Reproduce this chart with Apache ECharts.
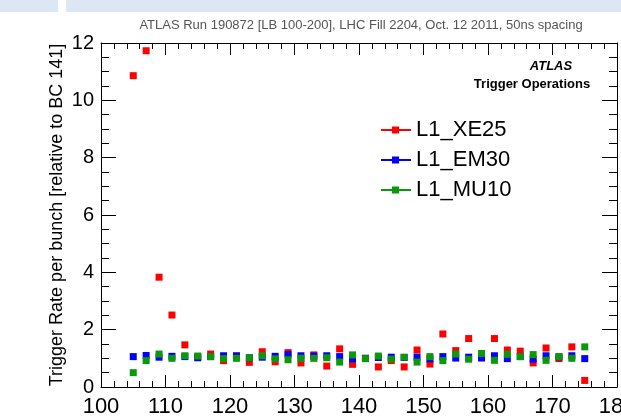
<!DOCTYPE html>
<html>
<head>
<meta charset="utf-8">
<title>Trigger rate per bunch</title>
<script src="https://cdn.jsdelivr.net/npm/echarts@6/dist/echarts.min.js"></script>
<style>
    html,body{margin:0;padding:0;background:#fff;}
    #main{width:621px;height:420px;}
</style>
</head>
<body>
<div id="main"></div>
<script>
// bunch crossing numbers
let bunchCrossing = [105, 107, 109, 111, 113, 115, 117, 119, 121, 123, 125, 127,
    129, 131, 133, 135, 137, 139, 141, 143, 145, 147, 149, 151,
    153, 155, 157, 159, 161, 163, 165, 167, 169, 171, 173, 175];

// rate relative to BC 141
let rateXE25 = [10.86, 11.73, 3.83, 2.51, 1.47, 1.05, 1.15, 0.92, 1.09, 0.86, 1.23, 0.88,
    1.20, 0.84, 1.12, 0.73, 1.33, 0.79, 1.00, 0.70, 0.92, 0.70, 1.29, 0.80,
    1.85, 1.27, 1.69, 1.05, 1.69, 1.29, 1.25, 0.84, 1.36, 0.99, 1.40, 0.23];
let rateEM30 = [1.06, 1.10, 1.04, 1.07, 1.06, 1.02, 1.06, 1.09, 1.08, 1.02, 1.04, 1.07,
    1.13, 1.09, 1.08, 1.09, 1.06, 0.98, 1.00, 1.03, 1.04, 1.03, 1.04, 0.98,
    1.06, 1.01, 1.04, 1.01, 1.09, 0.99, 1.06, 0.97, 1.09, 1.05, 1.09, 0.99];
let rateMU10 = [0.50, 0.92, 1.15, 1.00, 1.09, 1.08, 1.06, 0.99, 1.00, 1.02, 1.09, 0.98,
    0.95, 1.00, 1.00, 1.02, 0.87, 1.12, 0.99, 1.08, 0.97, 1.04, 0.87, 1.06,
    0.92, 1.15, 0.97, 1.17, 0.93, 1.14, 1.06, 1.13, 0.93, 1.06, 1.00, 1.40];

let xTicks = {min: 100, max: 180, interval: 10};
let yTicks = {min: 0, max: 12, interval: 2};

(function(){
    let font = '"Liberation Sans", Arial, sans-serif';
    let chart = echarts.init(document.getElementById('main'));

    function pairs(ys){
        return bunchCrossing.map((x, i) => [x, ys[i]]);
    }

    // ROOT style frame: ticks inside on all four sides
    function xAxis(pos, showLabel){
        return {
            type: 'value', position: pos,
            min: xTicks.min, max: xTicks.max, interval: xTicks.interval,
            axisLine: {show: true, onZero: false, lineStyle: {color: '#000', width: 1}},
            axisTick: {show: true, inside: true, length: 12, lineStyle: {color: '#000', width: 1, opacity: 1}},
            minorTick: {show: true, splitNumber: 5, length: 6, lineStyle: {color: '#000', width: 1, opacity: 1}},
            splitLine: {show: false},
            axisLabel: {show: showLabel, fontSize: 22, color: '#000', fontFamily: font, margin: 9}
        };
    }
    function yAxis(pos, showLabel){
        return {
            type: 'value', position: pos,
            min: yTicks.min, max: yTicks.max, interval: yTicks.interval,
            axisLine: {show: true, onZero: false, lineStyle: {color: '#000', width: 1}},
            axisTick: {show: true, inside: true, length: 15, lineStyle: {color: '#000', width: 1, opacity: 1}},
            minorTick: {show: true, splitNumber: 4, length: 8, lineStyle: {color: '#000', width: 1, opacity: 1}},
            splitLine: {show: false},
            axisLabel: {show: showLabel, fontSize: 20, color: '#000', fontFamily: font, margin: 7}
        };
    }

    let legendIcon = 'path://M0,4 L30,4 L30,6 L0,6 Z M11,1.5 L18,1.5 L18,8.5 L11,8.5 Z';

    function series(name, color, ys){
        return {
            name: name, type: 'scatter', symbol: 'rect', symbolSize: 7,
            itemStyle: {color: color, opacity: 1}, data: pairs(ys), z: 3
        };
    }

    let y0 = yAxis('left', true);
    y0.name = 'Trigger Rate per bunch [relative to BC 141]';
    y0.nameLocation = 'middle';
    y0.nameGap = 35;
    y0.nameMoveOverlap = false;
    y0.nameTextStyle = {fontSize: 18, color: '#000', fontFamily: font};

    let option = {
        animation: false,
        grid: {left: 101, right: 4, top: 43, bottom: 33, containLabel: false, outerBoundsMode: 'none'},
        title: [
            {text: 'ATLAS Run 190872 [LB 100-200], LHC Fill 2204, Oct. 12 2011, 50ns spacing',
                left: 356, top: 14, textAlign: 'center',
                textStyle: {fontSize: 13, fontWeight: 'normal', color: '#555', fontFamily: font}},
            {text: 'ATLAS', left: 546, top: 55, textAlign: 'center',
                textStyle: {fontSize: 13, fontWeight: 'bold', fontStyle: 'italic', color: '#000', fontFamily: font}},
            {text: 'Trigger Operations', left: 527, top: 73, textAlign: 'center',
                textStyle: {fontSize: 13, fontWeight: 'bold', color: '#000', fontFamily: font}}
        ],
        legend: {
            orient: 'vertical', left: 381, top: 119, padding: 0,
            itemWidth: 30, itemHeight: 10, itemGap: 8,
            icon: legendIcon,
            textStyle: {fontSize: 22, color: '#000', fontFamily: font},
            data: ['L1_XE25', 'L1_EM30', 'L1_MU10']
        },
        xAxis: [xAxis('bottom', true), xAxis('top', false)],
        yAxis: [y0, yAxis('right', false)],
        series: [
            series('L1_XE25', '#ff0000', rateXE25),
            series('L1_EM30', '#0000ff', rateEM30),
            series('L1_MU10', '#0a990a', rateMU10)
        ],
        // light blue strips at the top of the page
        graphic: [
            {type: 'rect', shape: {x: 0, y: 0, width: 58, height: 12}, style: {fill: '#dde6f4'}, silent: true},
            {type: 'rect', shape: {x: 66, y: 0, width: 555, height: 12}, style: {fill: '#dde6f4'}, silent: true}
        ]
    };
    chart.setOption(option);
})();
</script>
</body>
</html>
